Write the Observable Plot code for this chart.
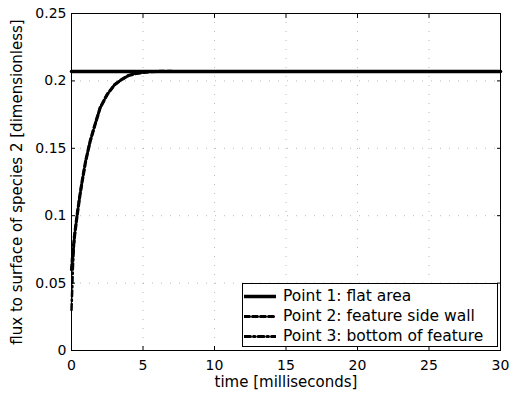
<!DOCTYPE html>
<html>
<head>
<meta charset="utf-8">
<script src="https://cdn.jsdelivr.net/npm/d3@7"></script>
<script src="https://cdn.jsdelivr.net/npm/@observablehq/plot@0.6"></script>
<style>
  body { margin: 0; background: #fff; }
  #wrap { position: relative; width: 514px; height: 393px; font-family: "DejaVu Sans", sans-serif; }
  #legend { position: absolute; box-sizing: border-box; border: 1px solid #000; background: #fff; color: #000; padding: 2px 0 0 1px; }
  #legend .row { display: flex; align-items: center; height: 20px; white-space: nowrap; }
  #legend svg { margin-right: 7px; }
</style>
</head>
<body>
<div id="wrap"></div>
<script>
// Data
const xTicks = [0, 5, 10, 15, 20, 25, 30];
const yTicks = [0, 0.05, 0.1, 0.15, 0.2, 0.25];
const seriesNames = ["Point 1: flat area", "Point 2: feature side wall", "Point 3: bottom of feature"];

const t1 = [0, 30];
const v1 = [0.207, 0.207];

const t2 = [0, 0.1, 0.2, 0.4, 0.6, 0.8, 1.0, 1.3, 1.6, 2.0, 2.5, 3.0, 3.5, 4.0, 4.5, 5.0, 5.5, 6.0, 7.0];
const v2 = [0.060, 0.073, 0.084, 0.101, 0.116, 0.129, 0.141, 0.155, 0.166, 0.180, 0.190, 0.197, 0.201, 0.204, 0.2055, 0.2063, 0.2068, 0.207, 0.207];

const t3 = [0, 0.05, 0.1, 0.2, 0.4, 0.6, 0.8, 1.0, 1.3, 1.6, 2.0, 2.5, 3.0, 3.5, 4.0, 4.5, 5.0, 5.5, 6.0, 7.0];
const v3 = [0.030, 0.045, 0.062, 0.084, 0.101, 0.116, 0.129, 0.141, 0.155, 0.166, 0.180, 0.190, 0.197, 0.201, 0.204, 0.2055, 0.2063, 0.2068, 0.207, 0.207];

const s1 = t1.map((t, i) => ({t, v: v1[i]}));
const s2 = t2.map((t, i) => ({t, v: v2[i]}));
const s3 = t3.map((t, i) => ({t, v: v3[i]}));

const dashes = [null, "5,3", "6,3,1.5,3"];

const chart = Plot.plot({
  width: 514,
  height: 393,
  marginLeft: 71,
  marginRight: 14,
  marginTop: 13,
  marginBottom: 43,
  style: { fontFamily: "DejaVu Sans, sans-serif", fontSize: "14px", color: "#000", background: "#fff" },
  x: { domain: [0, 30] },
  y: { domain: [0, 0.25] },
  marks: [
    Plot.gridX(xTicks.slice(1, -1), { stroke: "#777", strokeOpacity: 0.5, strokeDasharray: "1,8" }),
    Plot.gridY(yTicks.slice(1, -1), { stroke: "#777", strokeOpacity: 0.5, strokeDasharray: "1,8" }),
    Plot.line(s2, { x: "t", y: "v", stroke: "#000", strokeWidth: 3.2, strokeDasharray: dashes[1] }),
    Plot.line(s3, { x: "t", y: "v", stroke: "#000", strokeWidth: 2.5, strokeDasharray: dashes[2] }),
    Plot.line(s1, { x: "t", y: "v", stroke: "#000", strokeWidth: 3.5 }),
    Plot.frame({ stroke: "#000", strokeWidth: 1 }),
    Plot.axisX(xTicks, { anchor: "bottom", tickSize: -4, tickPadding: 14, fontSize: 14, label: null }),
    Plot.axisX({ anchor: "bottom", ticks: [], label: "time [milliseconds]", labelAnchor: "center", labelArrow: "none", labelOffset: 36, fontSize: 15 }),
    Plot.axisX(xTicks, { anchor: "top", tickSize: -4, tickFormat: () => "", label: null }),
    Plot.axisY(yTicks, { anchor: "left", tickSize: -4, tickPadding: 9, tickFormat: d => String(d), fontSize: 14, label: null }),
    Plot.axisY({ anchor: "left", ticks: [], label: "flux to surface of species 2 [dimensionless]", labelAnchor: "center", labelArrow: "none", labelOffset: 60, fontSize: 15 }),
    Plot.axisY(yTicks, { anchor: "right", tickSize: -4, tickFormat: () => "", label: null })
  ]
});

const wrap = document.getElementById("wrap");
wrap.appendChild(chart);

// Legend inside the plot, bottom-right
const legend = document.createElement("div");
legend.id = "legend";
legend.style.left = "242px";
legend.style.top = "283px";
legend.style.width = "256px";
legend.style.height = "64px";
seriesNames.forEach((name, i) => {
  const row = document.createElement("div");
  row.className = "row";
  const sw = Plot.plot({
    width: 32, height: 10, margin: 0,
    x: { domain: [0, 1], axis: null }, y: { domain: [0, 1], axis: null },
    marks: [Plot.lineY([0.5, 0.5], { x: [0, 1], stroke: "#000", strokeWidth: i === 0 ? 3.5 : 3, strokeDasharray: dashes[i] })]
  });
  row.appendChild(sw);
  const span = document.createElement("span");
  span.textContent = name;
  span.style.fontSize = "15.5px";
  row.appendChild(span);
  legend.appendChild(row);
});
wrap.appendChild(legend);
</script>
</body>
</html>
